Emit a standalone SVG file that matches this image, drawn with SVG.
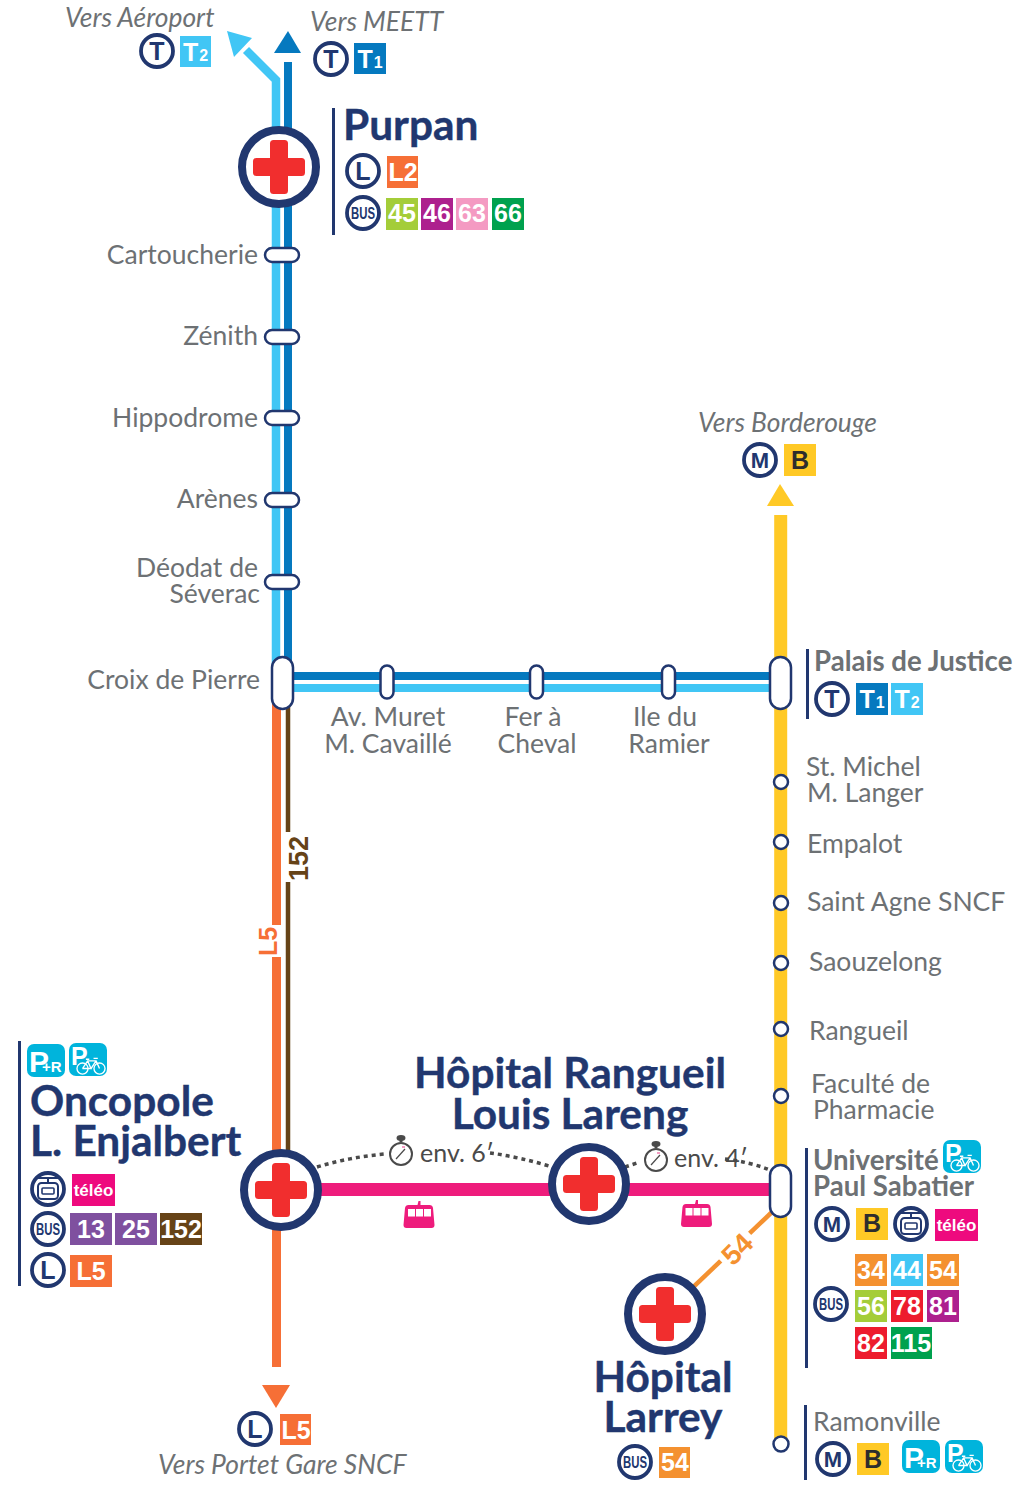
<svg xmlns="http://www.w3.org/2000/svg" width="1022" height="1498" viewBox="0 0 1022 1498">
<style>
text{font-family:"Lato","Noto Sans",sans-serif}
.lbl{font-size:26.500px;fill:#6d7174;transform:translateY(.7px)}
.end{text-anchor:end}
.mid{text-anchor:middle}
.vers{font-size:26.400px;font-style:italic;fill:#6d7174}
.big{font-size:42.400px;font-weight:700;fill:#21376f;stroke:#21376f;stroke-width:.4}
.sub{font-size:27.600px;font-weight:700;fill:#6d7174}
.ring{fill:#fff;stroke:#21376f;stroke-width:3.800}
.bar{fill:#21376f}
.rl{font-size:25px;font-weight:700;fill:#21376f;text-anchor:middle;font-family:"Liberation Sans",sans-serif}
.rm{font-size:22px}
.bus{font-size:17px;font-weight:700;fill:#21376f;text-anchor:middle;font-family:"Liberation Sans",sans-serif}
.n{font-size:25px;font-weight:700;fill:#fff;text-anchor:middle;font-family:"Liberation Sans",sans-serif}
.nd{fill:#2d2d2d}
.s{font-size:16px}
.tel{font-size:17px;font-weight:700;fill:#fff;text-anchor:middle;font-family:"Liberation Sans",sans-serif}
.stop{fill:#fff;stroke:#21376f;stroke-width:2.500}
.hosp{fill:#fff;stroke:#21376f;stroke-width:8}
.cross{fill:#f12e2e}
.dot{fill:none;stroke:#4a4a4a;stroke-width:3.500;stroke-dasharray:4 4}
.env{font-size:25px;fill:#4a4a4a}
.pk{fill:#00b4dc}
.pt{font-family:"Liberation Sans",sans-serif;font-weight:700;fill:#fff}
.tag{font-family:"Liberation Sans",sans-serif;font-weight:700}
</style>
<defs>
<g id="cross" class="cross"><rect x="-9" y="-27" width="18" height="54" rx="3.500"/><rect x="-26" y="-9" width="52" height="18" rx="3.500"/></g>
<g id="teleIcon" fill="none" stroke="#21376f">
<rect x="-10" y="-6" width="20" height="16" rx="3.500" stroke-width="2"/>
<rect x="-6" y="-1" width="12" height="6" rx="1" stroke-width="1.600"/>
<path d="M-13-11L13-11M0-11V-6" stroke-width="2"/>
</g>
<g id="gondola">
<path d="M-1-16h2v4h9q3 0 3.500 3l1.500 17q0 3-3 3h-25q-3 0-3-3l1.500-17q.5-3 3.500-3h9z" fill="#ee1c7c"/>
<rect x="-11.500" y="-8" width="7" height="7.500" fill="#fff"/><rect x="-3.500" y="-8" width="7" height="7.500" fill="#fff"/><rect x="4.500" y="-8" width="7" height="7.500" fill="#fff"/>
</g>
<g id="bike" fill="none" stroke="#fff" stroke-width="1.600">
<circle cx="-10" cy="3" r="6.500"/><circle cx="10" cy="3" r="6.500"/>
<path d="M-10 3L-4-6H6L10 3M-4-6L0 3H-10M6-6L0 3M-6-8H-2M3-9H8"/>
</g>
<g id="chrono">
<circle r="11" fill="#fff" stroke="#4a4a4a" stroke-width="2"/>
<path d="M0-16V-12" stroke="#4a4a4a" stroke-width="3"/>
<ellipse cy="-16" rx="4.500" ry="3" fill="#4a4a4a"/>
<path d="M-5 5L4-5" stroke="#4a4a4a" stroke-width="1.200"/>
<path d="M1-7L4-7" stroke="#f49ac2" stroke-width="2"/>
</g>
</defs>

<g id="connectors" fill="none">
<path d="M276 240V80L246 50" stroke="#41c6f5" stroke-width="8.500"/>
<path d="M276 240V680" stroke="#41c6f5" stroke-width="8.500"/>
<path d="M288 62V680" stroke="#0579bf" stroke-width="8"/>
<path d="M280 676H780" stroke="#0579bf" stroke-width="8"/>
<path d="M280 688H780" stroke="#41c6f5" stroke-width="8"/>
<path d="M276.500 690V1367" stroke="#f66f36" stroke-width="9"/>
<path d="M288 690V1190" stroke="#664317" stroke-width="4.500"/>
<path d="M780.700 515V1444" stroke="#ffc926" stroke-width="13"/>
<path d="M281 1189.500H780" stroke="#ee1c7c" stroke-width="13"/>
<path d="M772 1212L665 1314" stroke="#f49130" stroke-width="4.500"/>
<path class="dot" d="M317 1167Q350 1157 385 1154"/>
<path class="dot" d="M490 1153Q520 1157 552 1167"/>
<path class="dot" d="M625 1167L640 1162"/>
<path class="dot" d="M725 1159Q750 1162 770 1170"/>
<polygon points="227,31 252,38 234,57" fill="#41c6f5"/>
<polygon points="288,31 301,53 274,53" fill="#0579bf"/>
<polygon points="780,484 794,506 767,506" fill="#ffc926"/>
<polygon points="262,1385 290,1385 276,1408" fill="#f66f36"/>
</g>

<g id="line-tags">
<rect x="284" y="832" width="28" height="50" fill="#fff"/>
<text class="tag" transform="translate(308,881) rotate(-90)" font-size="27" fill="#664317">152</text>
<rect x="254" y="925" width="28" height="32" fill="#fff"/>
<text class="tag" transform="translate(277,956) rotate(-90)" font-size="25" fill="#f66f36">L5</text>
<rect x="-20" y="-16" width="40" height="32" fill="#fff" transform="translate(737,1249) rotate(-45)"/>
<text class="tag" transform="translate(737,1249) rotate(-45)" font-size="28" fill="#f49130" text-anchor="middle" y="10">54</text>
</g>

<g id="vers-aeroport">
<text class="vers" x="65" y="27">Vers Aéroport</text>
<circle class="ring" cx="157" cy="51" r="16"/><text class="rl" x="157" y="60">T</text>
<rect x="180" y="36" width="31" height="31" fill="#41c6f5"/><text class="n" x="195.500" y="61">T<tspan class="s" dx="1">2</tspan></text>
</g>
<g id="vers-meett">
<text class="vers" x="310" y="31">Vers MEETT</text>
<circle class="ring" cx="331" cy="59" r="16"/><text class="rl" x="331" y="68">T</text>
<rect x="354" y="43" width="32" height="31" fill="#0579bf"/><text class="n" x="370" y="68">T<tspan class="s" dx="1">1</tspan></text>
</g>

<g id="purpan">
<rect class="bar" x="332" y="108" width="3" height="127"/>
<circle class="hosp" cx="279" cy="167" r="37"/><use href="#cross" x="279" y="167"/>
<text class="big" x="343" y="140">Purpan</text>
<circle class="ring" cx="363" cy="171" r="16"/><text class="rl" x="363" y="180">L</text>
<rect x="387" y="156" width="31" height="32" fill="#f66f36"/><text class="n" x="403" y="181">L2</text>
<circle class="ring" cx="363" cy="213" r="16"/><text class="bus" x="363" y="219" textLength="24" lengthAdjust="spacingAndGlyphs">BUS</text>
<rect x="386" y="198" width="32" height="32" fill="#a4cd39"/><text class="n" x="402" y="222">45</text>
<rect x="421" y="198" width="32" height="32" fill="#ad208e"/><text class="n" x="437" y="222">46</text>
<rect x="456" y="198" width="32" height="32" fill="#f49ac2"/><text class="n" x="472" y="222">63</text>
<rect x="492" y="198" width="32" height="32" fill="#00a14e"/><text class="n" x="508" y="222">66</text>
</g>

<g id="cartoucherie"><text class="lbl end" x="258" y="263">Cartoucherie</text><rect class="stop" x="265" y="248" width="34" height="14" rx="7"/></g>
<g id="zenith"><text class="lbl end" x="258" y="344">Zénith</text><rect class="stop" x="265" y="330" width="34" height="14" rx="7"/></g>
<g id="hippodrome"><text class="lbl end" x="258" y="426">Hippodrome</text><rect class="stop" x="265" y="411" width="34" height="14" rx="7"/></g>
<g id="arenes"><text class="lbl end" x="258" y="507">Arènes</text><rect class="stop" x="265" y="493" width="34" height="14" rx="7"/></g>
<g id="deodat"><text class="lbl end" x="258" y="576">Déodat de</text><text class="lbl end" x="260" y="602">Séverac</text><rect class="stop" x="265" y="575" width="34" height="14" rx="7"/></g>
<g id="croix-de-pierre"><text class="lbl end" x="260" y="688">Croix de Pierre</text><rect class="stop" x="272" y="657" width="21" height="52" rx="10.500"/></g>

<g id="muret"><rect class="stop" x="380.500" y="665.500" width="13" height="33" rx="6.500"/><text class="lbl mid" x="388" y="725">Av. Muret</text><text class="lbl mid" x="388" y="752">M. Cavaillé</text></g>
<g id="fer-a-cheval"><rect class="stop" x="530" y="665.500" width="13" height="33" rx="6.500"/><text class="lbl mid" x="533" y="725">Fer à</text><text class="lbl mid" x="537" y="752">Cheval</text></g>
<g id="ile-du-ramier"><rect class="stop" x="662" y="665.500" width="13" height="33" rx="6.500"/><text class="lbl mid" x="665" y="725">Ile du</text><text class="lbl mid" x="669" y="752">Ramier</text></g>

<g id="vers-borderouge">
<text class="vers" x="698" y="432">Vers Borderouge</text>
<circle class="ring" cx="760" cy="460" r="16"/><text class="rl rm" x="760" y="468">M</text>
<rect x="784" y="444" width="32" height="32" fill="#ffc926"/><text class="n nd" x="800" y="469">B</text>
</g>

<g id="palais-de-justice">
<rect class="bar" x="806" y="649" width="3" height="70"/>
<rect class="stop" x="770" y="657" width="21" height="52" rx="10.500"/>
<text class="sub" x="814" y="671">Palais de Justice</text>
<circle class="ring" cx="832" cy="699" r="16"/><text class="rl" x="832" y="708">T</text>
<rect x="856" y="683" width="32" height="32" fill="#0579bf"/><text class="n" x="872" y="708">T<tspan class="s" dx="1">1</tspan></text>
<rect x="891" y="683" width="32" height="32" fill="#41c6f5"/><text class="n" x="907" y="708">T<tspan class="s" dx="1">2</tspan></text>
</g>

<g id="saint-michel"><circle class="stop" cx="781" cy="782" r="7"/><text class="lbl" x="806" y="775">St. Michel</text><text class="lbl" x="807" y="801">M. Langer</text></g>
<g id="empalot"><circle class="stop" cx="781" cy="842" r="7"/><text class="lbl" x="807" y="852">Empalot</text></g>
<g id="saint-agne"><circle class="stop" cx="781" cy="903" r="7"/><text class="lbl" x="807" y="910">Saint Agne SNCF</text></g>
<g id="saouzelong"><circle class="stop" cx="781" cy="963" r="7"/><text class="lbl" x="809" y="970">Saouzelong</text></g>
<g id="rangueil"><circle class="stop" cx="781" cy="1029" r="7"/><text class="lbl" x="809" y="1039">Rangueil</text></g>
<g id="pharmacie"><circle class="stop" cx="781" cy="1096" r="7"/><text class="lbl" x="811" y="1092">Faculté de</text><text class="lbl" x="813" y="1118">Pharmacie</text></g>

<g id="oncopole">
<rect class="bar" x="18" y="1041" width="3" height="245"/>
<rect class="pk" x="27" y="1044" width="38" height="33" rx="7"/><text class="pt" x="29" y="1072" font-size="30">P<tspan font-size="15" dx="-7">+R</tspan></text>
<rect class="pk" x="69" y="1043" width="38" height="33" rx="7"/><text class="pt" x="71" y="1065" font-size="25">P</text><use href="#bike" transform="translate(91 1066) scale(.85)"/>
<text class="big" x="30" y="1116">Oncopole</text>
<text class="big" x="30" y="1156">L. Enjalbert</text>
<circle class="ring" cx="48" cy="1189" r="16"/><use href="#teleIcon" x="48" y="1189"/>
<rect x="72" y="1174" width="43" height="32" fill="#ee0a7e"/><text class="tel" x="93.500" y="1196">téléo</text>
<circle class="ring" cx="48" cy="1229" r="16"/><text class="bus" x="48" y="1235" textLength="24" lengthAdjust="spacingAndGlyphs">BUS</text>
<rect x="70" y="1213" width="42" height="32" fill="#7f509f"/><text class="n" x="91" y="1238">13</text>
<rect x="115" y="1213" width="42" height="32" fill="#7f509f"/><text class="n" x="136" y="1238">25</text>
<rect x="160" y="1213" width="42" height="32" fill="#664317"/><text class="n" x="181" y="1238">152</text>
<circle class="ring" cx="48" cy="1270" r="16"/><text class="rl" x="48" y="1279">L</text>
<rect x="70" y="1255" width="42" height="32" fill="#f66f36"/><text class="n" x="91" y="1280">L5</text>
<circle class="hosp" cx="281" cy="1190" r="37"/><use href="#cross" x="281" y="1190"/>
</g>

<g id="rangueil-hospital">
<text class="big mid" x="570" y="1088">Hôpital Rangueil</text>
<text class="big mid" x="570" y="1129">Louis Lareng</text>
<use href="#chrono" x="401" y="1154"/><text class="env" x="420" y="1162">env. 6′</text>
<use href="#chrono" x="656" y="1160"/><text class="env" x="674" y="1167">env. 4′</text>
<use href="#gondola" x="419.500" y="1217"/><use href="#gondola" x="697" y="1216"/>
<circle class="hosp" cx="589" cy="1184" r="37"/><use href="#cross" x="589" y="1184"/>
</g>

<g id="universite">
<rect class="bar" x="805" y="1148" width="3" height="220"/>
<rect class="stop" x="770" y="1165" width="21" height="52" rx="10.500"/>
<text class="sub" x="813" y="1170">Université</text>
<rect class="pk" x="943" y="1140" width="38" height="33" rx="7"/><text class="pt" x="945" y="1162" font-size="25">P</text><use href="#bike" transform="translate(965 1163) scale(.85)"/>
<text class="sub" x="813" y="1196">Paul Sabatier</text>
<circle class="ring" cx="832" cy="1224" r="16"/><text class="rl rm" x="832" y="1232">M</text>
<rect x="856" y="1208" width="32" height="32" fill="#ffc926"/><text class="n nd" x="872" y="1232">B</text>
<circle class="ring" cx="911" cy="1224" r="16"/><use href="#teleIcon" x="911" y="1224"/>
<rect x="935" y="1209" width="43" height="32" fill="#ee0a7e"/><text class="tel" x="956.500" y="1231">téléo</text>
<circle class="ring" cx="831" cy="1304" r="16"/><text class="bus" x="831" y="1310" textLength="24" lengthAdjust="spacingAndGlyphs">BUS</text>
<rect x="855" y="1254" width="32" height="32" fill="#f49130"/><text class="n" x="871" y="1279">34</text>
<rect x="891" y="1254" width="32" height="32" fill="#41c6f5"/><text class="n" x="907" y="1279">44</text>
<rect x="927" y="1254" width="32" height="32" fill="#f49130"/><text class="n" x="943" y="1279">54</text>
<rect x="855" y="1290" width="32" height="32" fill="#a4cd39"/><text class="n" x="871" y="1315">56</text>
<rect x="891" y="1290" width="32" height="32" fill="#ed1c2e"/><text class="n" x="907" y="1315">78</text>
<rect x="927" y="1290" width="32" height="32" fill="#ad208e"/><text class="n" x="943" y="1315">81</text>
<rect x="855" y="1327" width="32" height="32" fill="#ed1c2e"/><text class="n" x="871" y="1352">82</text>
<rect x="891" y="1327" width="41" height="32" fill="#00a14e"/><text class="n" x="911" y="1352">115</text>
</g>

<g id="larrey">
<circle class="hosp" cx="665" cy="1314" r="37"/><use href="#cross" x="665" y="1314"/>
<text class="big mid" x="663" y="1392">Hôpital</text>
<text class="big mid" x="663" y="1432">Larrey</text>
<circle class="ring" cx="635" cy="1462" r="16"/><text class="bus" x="635" y="1468" textLength="24" lengthAdjust="spacingAndGlyphs">BUS</text>
<rect x="659" y="1447" width="31" height="31" fill="#f49130"/><text class="n" x="675" y="1471">54</text>
</g>

<g id="ramonville">
<rect class="bar" x="804" y="1405" width="3" height="75"/>
<circle class="stop" cx="781" cy="1444" r="7.500"/>
<text class="lbl" x="813" y="1430">Ramonville</text>
<circle class="ring" cx="833" cy="1459" r="16"/><text class="rl rm" x="833" y="1467">M</text>
<rect x="857" y="1443" width="32" height="32" fill="#ffc926"/><text class="n nd" x="873" y="1468">B</text>
<rect class="pk" x="902" y="1440" width="38" height="33" rx="7"/><text class="pt" x="904" y="1468" font-size="30">P<tspan font-size="15" dx="-7">+R</tspan></text>
<rect class="pk" x="945" y="1440" width="38" height="33" rx="7"/><text class="pt" x="947" y="1462" font-size="25">P</text><use href="#bike" transform="translate(967 1463) scale(.85)"/>
</g>

<g id="vers-portet">
<circle class="ring" cx="255" cy="1429" r="16"/><text class="rl" x="255" y="1438">L</text>
<rect x="280" y="1414" width="31" height="31" fill="#f66f36"/><text class="n" x="296" y="1439">L5</text>
<text class="vers" x="158" y="1474">Vers Portet Gare SNCF</text>
</g>
</svg>
